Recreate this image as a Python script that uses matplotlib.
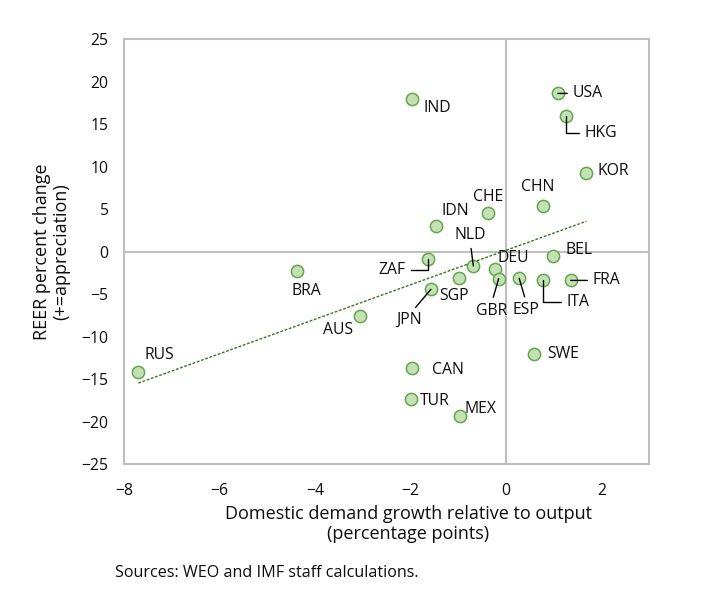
import numpy as np
import matplotlib
matplotlib.use('Agg')
import matplotlib.pyplot as plt

plt.rcParams['font.family'] = ['Open Sans', 'DejaVu Sans']

# Data
countries = ['RUS', 'BRA', 'AUS', 'IND', 'CAN', 'TUR', 'MEX', 'ZAF', 'IDN', 'JPN',
             'SGP', 'NLD', 'CHE', 'DEU', 'GBR', 'ESP', 'CHN', 'ITA', 'BEL', 'FRA',
             'SWE', 'USA', 'HKG', 'KOR']
demand_gap = [-7.70, -4.38, -3.06, -1.96, -1.96, -1.98, -0.97, -1.64, -1.47, -1.57,
              -0.99, -0.68, -0.37, -0.23, -0.15, 0.28, 0.78, 0.78, 0.98, 1.36,
              0.60, 1.09, 1.27, 1.69]
reer_change = [-14.2, -2.3, -7.55, 17.9, -13.7, -17.4, -19.4, -0.85, 3.0, -4.45,
               -3.15, -1.7, 4.5, -2.06, -3.2, -3.15, 5.3, -3.3, -0.56, -3.4,
               -12.0, 18.6, 16.0, 9.2]

# label offsets in pixels (dx right, dy down) and leader line settings
label_pos = {
    'RUS': (21, -17), 'BRA': (10, 20), 'AUS': (-22, 14), 'IND': (25, 9),
    'USA': (30, 0), 'HKG': (34, 17), 'KOR': (27, -2), 'CHN': (-5, -19),
    'CHE': (0, -16), 'IDN': (20, -15), 'NLD': (-3, -31), 'ZAF': (-36, 11),
    'DEU': (18, -11), 'SGP': (-5, 18), 'JPN': (-22, 31), 'GBR': (-7, 32),
    'ESP': (7, 32), 'ITA': (35, 22), 'BEL': (26, -6), 'FRA': (36, 0),
    'SWE': (29, 0), 'CAN': (36, 2), 'TUR': (23, 2), 'MEX': (21, -7),
}
leaders = {
    'USA': ((0, 0.5), 'arc3'),
    'HKG': ((0, 0.5), 'angle,angleA=0,angleB=90,rad=0'),
    'ZAF': ((1, 0.5), 'angle,angleA=0,angleB=90,rad=0'),
    'NLD': ((0.5, 0), 'arc3'),
    'JPN': ((0.6, 1), 'arc3'),
    'GBR': ((0.5, 1), 'arc3'),
    'ESP': ((0.5, 1), 'arc3'),
    'ITA': ((0, 0.5), 'angle,angleA=0,angleB=90,rad=0'),
    'FRA': ((0, 0.5), 'arc3'),
}

grey = '#BFBFBF'
ink = '#0d0d0d'
fig = plt.figure(figsize=(7.28, 5.92), dpi=100)
ax = fig.add_axes([0.1703, 0.2162, 0.7212, 0.7179])

x = np.array(demand_gap)
y = np.array(reer_change)

# trend line (linear fit)
slope, intercept = np.polyfit(x, y, 1)
xs = np.array([x.min(), x.max()])
ax.plot(xs, slope * xs + intercept, color='#38761d', lw=1, ls=(0, (2, 1.2)), zorder=2)

ax.scatter(x, y, s=78, facecolor='#C5E0B4', edgecolor='#62A84D', linewidth=1.1, zorder=3)

for c, xi, yi in zip(countries, x, y):
    dx, dy = label_pos[c]
    kw = {}
    if c in leaders:
        rel, cs = leaders[c]
        kw['arrowprops'] = dict(arrowstyle='-', color='black', lw=1,
                                relpos=rel, connectionstyle=cs,
                                shrinkA=2, shrinkB=0)
    ax.annotate(c, (xi, yi), xytext=(dx, -dy), textcoords='offset pixels',
                ha='center', va='center', fontsize=11.3, color=ink,
                zorder=4, **kw)

ax.axhline(0, color=grey, lw=1.5, zorder=1)
ax.axvline(0, color=grey, lw=1.5, zorder=1)

ax.set_xlim(-8, 3)
ax.set_ylim(-25, 25)
ax.set_xticks([-8, -6, -4, -2, 0, 2])
ax.set_yticks(range(-25, 30, 5))
ax.tick_params(axis='both', length=0, labelsize=11.3, colors=ink)
ax.tick_params(axis='x', pad=14)
ax.tick_params(axis='y', pad=11)
for s in ax.spines.values():
    s.set_color(grey)
    s.set_linewidth(1.5)

ax.set_xlabel('Domestic demand growth relative to output\n(percentage points)',
              fontsize=13, linespacing=1.1, color=ink)
ax.xaxis.set_label_coords(0.541, -0.097)
ax.set_ylabel('REER percent change\n(+=appreciation)', fontsize=13,
              linespacing=1.1, labelpad=8, color=ink)

fig.text(115 / 728, 1 - 573 / 592, 'Sources: WEO and IMF staff calculations.',
         fontsize=11.6, va='center', ha='left', color=ink)

fig.savefig('out.png', dpi=100)
